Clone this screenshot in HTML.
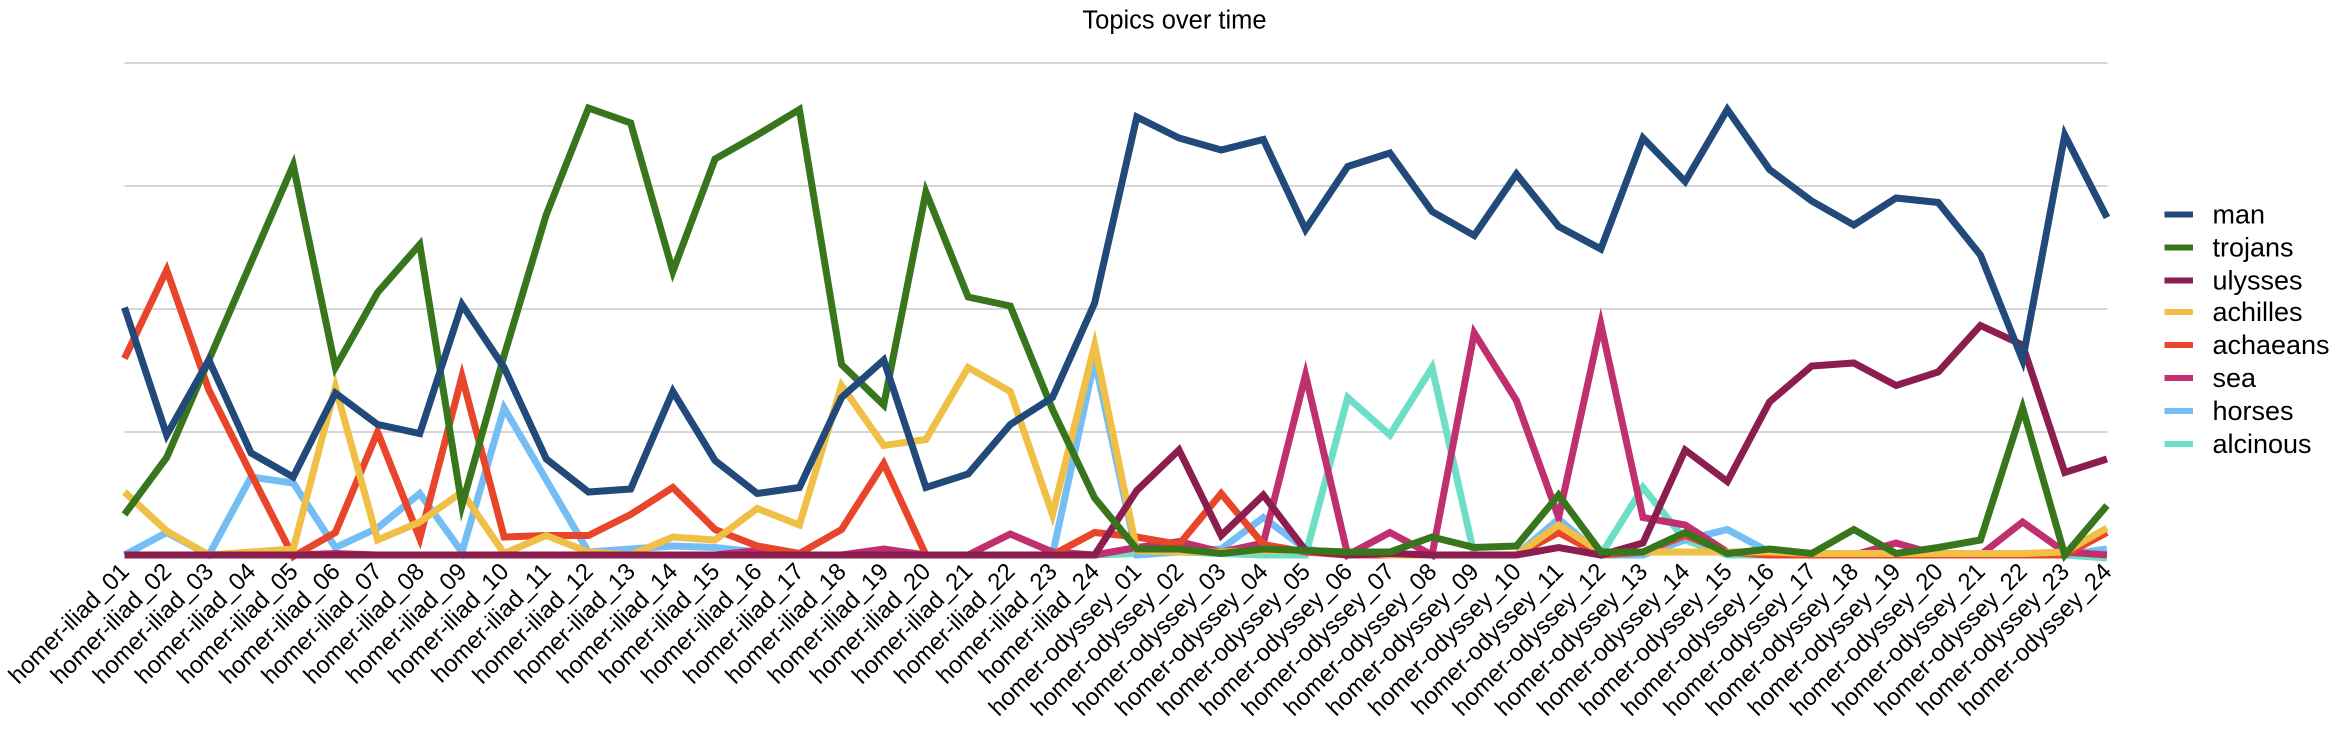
<!DOCTYPE html>
<html><head><meta charset="utf-8"><style>
html,body{margin:0;padding:0;background:#fff;}
svg{display:block;}
text{font-family:"Liberation Sans",Arial,sans-serif;fill:#000;}
</style></head><body>
<svg width="2350" height="738" viewBox="0 0 1566.67 492" xmlns="http://www.w3.org/2000/svg">
<text x="783" y="19" font-size="17" text-anchor="middle">Topics over time</text>
<g stroke="#bdbdbd" stroke-width="0.8">
<line x1="83" y1="42" x2="1405" y2="42"/>
<line x1="83" y1="124" x2="1405" y2="124"/>
<line x1="83" y1="206" x2="1405" y2="206"/>
<line x1="83" y1="288" x2="1405" y2="288"/>
</g>
<g transform="translate(83,0) scale(28.12,1)" fill="none" stroke-width="7" stroke-linejoin="miter" stroke-miterlimit="10">
<polyline vector-effect="non-scaling-stroke" stroke="#6cdfc6" points="0,370 1,370 2,370 3,370 4,370 5,370 6,370 7,370 8,370 9,370 10,370 11,370 12,370 13,370 14,370 15,370 16,370 17,370 18,370 19,370 20,370 21,370 22,370 23,370 24,369 25,368 26,369 27,370 28,370 29,265 30,290 31,245 32,370 33,370 34,355 35,370 36,325 37,360 38,370 39,370 40,370 41,370 42,370 43,370 44,370 45,370 46,370 47,372"/>
<polyline vector-effect="non-scaling-stroke" stroke="#74bdf5" points="0,370 1,355 2,370 3,318 4,322 5,365 6,352 7,329 8,368 9,272 10,320 11,368 12,366 13,364 14,365 15,368 16,370 17,370 18,370 19,370 20,370 21,370 22,370 23,240 24,370 25,368 26,366 27,345 28,366 29,370 30,370 31,370 32,370 33,370 34,346 35,370 36,370 37,360 38,353 39,368 40,370 41,370 42,370 43,370 44,370 45,370 46,370 47,366"/>
<polyline vector-effect="non-scaling-stroke" stroke="#c03070" points="0,370 1,370 2,370 3,369 4,370 5,369 6,370 7,370 8,370 9,370 10,370 11,370 12,370 13,370 14,370 15,367 16,370 17,370 18,366 19,370 20,370 21,356 22,368 23,370 24,365 25,361 26,368 27,362 28,250 29,370 30,355 31,370 32,222 33,267 34,345 35,216 36,345 37,350 38,368 39,370 40,370 41,370 42,362 43,370 44,370 45,348 46,368 47,370"/>
<polyline vector-effect="non-scaling-stroke" stroke="#e8452a" points="0,239 1,180 2,260 3,316 4,371 5,355 6,288 7,359 8,251 9,358 10,357 11,357 12,343 13,325 14,353 15,364 16,369 17,353 18,309 19,370 20,370 21,370 22,370 23,355 24,358 25,363 26,329 27,363 28,368 29,370 30,370 31,370 32,370 33,370 34,355 35,370 36,368 37,357 38,368 39,370 40,370 41,370 42,370 43,370 44,370 45,370 46,370 47,355"/>
<polyline vector-effect="non-scaling-stroke" stroke="#f0bf45" points="0,328 1,354 2,370 3,368 4,366 5,258 6,360 7,348 8,328 9,369 10,357 11,368 12,370 13,358 14,360 15,339 16,350 17,257 18,297 19,293 20,245 21,261 22,343 23,230 24,367 25,368 26,368 27,367 28,367 29,368 30,370 31,370 32,370 33,370 34,350 35,368 36,368 37,368 38,368 39,368 40,369 41,369 42,369 43,369 44,369 45,369 46,368 47,352"/>
<polyline vector-effect="non-scaling-stroke" stroke="#8b1e4f" points="0,370 1,370 2,370 3,370 4,370 5,370 6,370 7,370 8,370 9,370 10,370 11,370 12,370 13,370 14,370 15,370 16,370 17,370 18,370 19,370 20,370 21,370 22,370 23,370 24,327 25,300 26,357 27,330 28,367 29,370 30,369 31,370 32,370 33,370 34,365 35,370 36,362 37,300 38,321 39,268 40,244 41,242 42,257 43,248 44,217 45,230 46,315 47,306"/>
<polyline vector-effect="non-scaling-stroke" stroke="#38761d" points="0,343 1,305 2,240 3,175 4,110 5,245 6,195 7,163 8,337 9,237 10,143 11,72 12,82 13,181 14,106 15,90 16,73 17,243 18,270 19,128 20,198 21,204 22,273 23,332 24,366 25,366 26,369 27,366 28,367 29,368 30,368 31,358 32,365 33,364 34,330 35,368 36,368 37,355 38,369 39,366 40,369 41,353 42,369 43,365 44,360 45,272 46,370 47,337"/>
<polyline vector-effect="non-scaling-stroke" stroke="#21497a" points="0,205 1,290 2,240 3,302 4,318 5,262 6,283 7,289 8,203 9,245 10,306 11,328 12,326 13,261 14,307 15,329 16,325 17,265 18,240 19,325 20,316 21,283 22,265 23,202 24,78 25,92 26,100 27,93 28,153 29,111 30,102 31,141 32,157 33,116 34,151 35,166 36,92 37,121 38,73 39,113 40,134 41,150 42,132 43,135 44,170 45,240 46,90 47,145"/>
</g>
<g font-size="16">
<text transform="translate(87,382) rotate(-45)" text-anchor="end">homer-iliad_01</text>
<text transform="translate(115.1,382) rotate(-45)" text-anchor="end">homer-iliad_02</text>
<text transform="translate(143.2,382) rotate(-45)" text-anchor="end">homer-iliad_03</text>
<text transform="translate(171.4,382) rotate(-45)" text-anchor="end">homer-iliad_04</text>
<text transform="translate(199.5,382) rotate(-45)" text-anchor="end">homer-iliad_05</text>
<text transform="translate(227.6,382) rotate(-45)" text-anchor="end">homer-iliad_06</text>
<text transform="translate(255.7,382) rotate(-45)" text-anchor="end">homer-iliad_07</text>
<text transform="translate(283.8,382) rotate(-45)" text-anchor="end">homer-iliad_08</text>
<text transform="translate(312,382) rotate(-45)" text-anchor="end">homer-iliad_09</text>
<text transform="translate(340.1,382) rotate(-45)" text-anchor="end">homer-iliad_10</text>
<text transform="translate(368.2,382) rotate(-45)" text-anchor="end">homer-iliad_11</text>
<text transform="translate(396.3,382) rotate(-45)" text-anchor="end">homer-iliad_12</text>
<text transform="translate(424.4,382) rotate(-45)" text-anchor="end">homer-iliad_13</text>
<text transform="translate(452.6,382) rotate(-45)" text-anchor="end">homer-iliad_14</text>
<text transform="translate(480.7,382) rotate(-45)" text-anchor="end">homer-iliad_15</text>
<text transform="translate(508.8,382) rotate(-45)" text-anchor="end">homer-iliad_16</text>
<text transform="translate(536.9,382) rotate(-45)" text-anchor="end">homer-iliad_17</text>
<text transform="translate(565,382) rotate(-45)" text-anchor="end">homer-iliad_18</text>
<text transform="translate(593.2,382) rotate(-45)" text-anchor="end">homer-iliad_19</text>
<text transform="translate(621.3,382) rotate(-45)" text-anchor="end">homer-iliad_20</text>
<text transform="translate(649.4,382) rotate(-45)" text-anchor="end">homer-iliad_21</text>
<text transform="translate(677.5,382) rotate(-45)" text-anchor="end">homer-iliad_22</text>
<text transform="translate(705.6,382) rotate(-45)" text-anchor="end">homer-iliad_23</text>
<text transform="translate(733.8,382) rotate(-45)" text-anchor="end">homer-iliad_24</text>
<text transform="translate(761.9,382) rotate(-45)" text-anchor="end">homer-odyssey_01</text>
<text transform="translate(790,382) rotate(-45)" text-anchor="end">homer-odyssey_02</text>
<text transform="translate(818.1,382) rotate(-45)" text-anchor="end">homer-odyssey_03</text>
<text transform="translate(846.2,382) rotate(-45)" text-anchor="end">homer-odyssey_04</text>
<text transform="translate(874.4,382) rotate(-45)" text-anchor="end">homer-odyssey_05</text>
<text transform="translate(902.5,382) rotate(-45)" text-anchor="end">homer-odyssey_06</text>
<text transform="translate(930.6,382) rotate(-45)" text-anchor="end">homer-odyssey_07</text>
<text transform="translate(958.7,382) rotate(-45)" text-anchor="end">homer-odyssey_08</text>
<text transform="translate(986.8,382) rotate(-45)" text-anchor="end">homer-odyssey_09</text>
<text transform="translate(1015,382) rotate(-45)" text-anchor="end">homer-odyssey_10</text>
<text transform="translate(1043.1,382) rotate(-45)" text-anchor="end">homer-odyssey_11</text>
<text transform="translate(1071.2,382) rotate(-45)" text-anchor="end">homer-odyssey_12</text>
<text transform="translate(1099.3,382) rotate(-45)" text-anchor="end">homer-odyssey_13</text>
<text transform="translate(1127.4,382) rotate(-45)" text-anchor="end">homer-odyssey_14</text>
<text transform="translate(1155.6,382) rotate(-45)" text-anchor="end">homer-odyssey_15</text>
<text transform="translate(1183.7,382) rotate(-45)" text-anchor="end">homer-odyssey_16</text>
<text transform="translate(1211.8,382) rotate(-45)" text-anchor="end">homer-odyssey_17</text>
<text transform="translate(1239.9,382) rotate(-45)" text-anchor="end">homer-odyssey_18</text>
<text transform="translate(1268,382) rotate(-45)" text-anchor="end">homer-odyssey_19</text>
<text transform="translate(1296.2,382) rotate(-45)" text-anchor="end">homer-odyssey_20</text>
<text transform="translate(1324.3,382) rotate(-45)" text-anchor="end">homer-odyssey_21</text>
<text transform="translate(1352.4,382) rotate(-45)" text-anchor="end">homer-odyssey_22</text>
<text transform="translate(1380.5,382) rotate(-45)" text-anchor="end">homer-odyssey_23</text>
<text transform="translate(1408.6,382) rotate(-45)" text-anchor="end">homer-odyssey_24</text>
</g>
<g stroke-width="4">
<line x1="1443" y1="143" x2="1462" y2="143" stroke="#21497a"/>
<line x1="1443" y1="165" x2="1462" y2="165" stroke="#38761d"/>
<line x1="1443" y1="187" x2="1462" y2="187" stroke="#8b1e4f"/>
<line x1="1443" y1="208" x2="1462" y2="208" stroke="#f0bf45"/>
<line x1="1443" y1="230" x2="1462" y2="230" stroke="#e8452a"/>
<line x1="1443" y1="252" x2="1462" y2="252" stroke="#c03070"/>
<line x1="1443" y1="274" x2="1462" y2="274" stroke="#74bdf5"/>
<line x1="1443" y1="296" x2="1462" y2="296" stroke="#6cdfc6"/>
</g>
<g font-size="18">
<text x="1475" y="149">man</text>
<text x="1475" y="171">trojans</text>
<text x="1475" y="193">ulysses</text>
<text x="1475" y="214">achilles</text>
<text x="1475" y="236">achaeans</text>
<text x="1475" y="258">sea</text>
<text x="1475" y="280">horses</text>
<text x="1475" y="302">alcinous</text>
</g>
</svg>
</body></html>
